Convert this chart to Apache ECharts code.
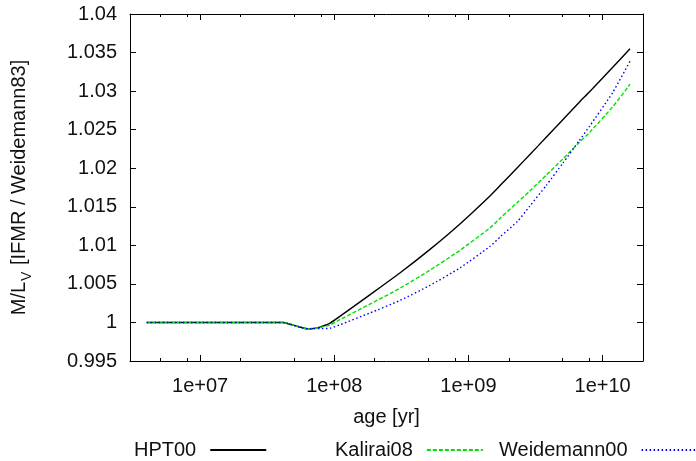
<!DOCTYPE html>
<html><head><meta charset="utf-8">
<script src="https://cdn.jsdelivr.net/npm/echarts@6/dist/echarts.min.js"></script>
<style>html,body{margin:0;padding:0;background:#fff}#c{width:696px;height:461px}</style>
</head><body><div id="c"></div>
<script>
// age [yr]
const ages = [4.0e6, 1e7, 2e7, 3e7, 4.15e7, 5e7, 6.3e7, 7e7, 7.8e7, 9.3e7, 1.1e8, 1.84e8, 3.08e8, 5.14e8, 8.6e8, 1.44e9, 1.75e9, 2.33e9, 2.85e9, 3.8e9, 5.05e9, 6.7e9, 8e9, 1.19e10, 1.6e10];
const hpt00 =       [1.0, 1.0, 1.0, 1.0, 1.0, 0.99962, 0.99918, 0.99922, 0.99940, 0.99992, 1.00078, 1.00358, 1.00641, 1.00944, 1.01274, 1.01637, 1.01788, 1.02012, 1.02172, 1.02401, 1.02629, 1.02856, 1.02991, 1.03309, 1.03550];
const kalirai08 =   [1.0, 1.0, 1.0, 1.0, 1.0, 0.99962, 0.99918, 0.99922, 0.99935, 0.99968, 1.00035, 1.00237, 1.00443, 1.00676, 1.00933, 1.01224, 1.01364, 1.01561, 1.01701, 1.01911, 1.02119, 1.02335, 1.02465, 1.02797, 1.03089];
const weidemann00 = [1.0, 1.0, 1.0, 1.0, 1.0, 0.99962, 0.99918, 0.99920, 0.99920, 0.99925, 0.99970, 1.00122, 1.00285, 1.00479, 1.00705, 1.00984, 1.01120, 1.01315, 1.01504, 1.01777, 1.02065, 1.02358, 1.02545, 1.02983, 1.03389];
const seriesNames = ['HPT00', 'Kalirai08', 'Weidemann00'];
const majorTicks = [1e7, 1e8, 1e9, 1e10];
const minorTicks = [5e6, 8e6, 2e7, 5e7, 8e7, 2e8, 5e8, 8e8, 2e9, 5e9, 8e9];

const FONT = "'Liberation Sans', Arial, sans-serif";
const FS = 20;
const TXT = '#111';
const xMin = 3e6, xMax = 2e10;

function zip(ys) { return ages.map((a, i) => [a, ys[i]]); }
function xFmt(v) { const e = Math.round(Math.log10(v)); return '1e+' + (e < 10 ? '0' + e : e); }

const baseX = {
  type: 'log', logBase: 10, min: xMin, max: xMax,
  splitLine: { show: false }, axisLabel: { show: false }, axisLine: { show: false }
};

const chart = echarts.init(document.getElementById('c'), null, { renderer: 'canvas' });
chart.setOption({
  animation: false,
  backgroundColor: '#fff',
  textStyle: { fontFamily: FONT },
  grid: { left: 130, right: 53, top: 14, bottom: 100, containLabel: false },
  xAxis: [
    Object.assign({}, baseX, {
      position: 'bottom',
      name: 'age [yr]', nameLocation: 'middle', nameGap: 46,
      nameTextStyle: { fontFamily: FONT, fontSize: FS, color: TXT },
      axisLine: { show: true, onZero: false, lineStyle: { color: '#000', width: 1 } },
      axisTick: { show: true, inside: true, length: 6, customValues: majorTicks, lineStyle: { color: '#000' } },
      axisLabel: { show: true, margin: 15, fontFamily: FONT, fontSize: FS, color: TXT, customValues: majorTicks, formatter: xFmt }
    }),
    Object.assign({}, baseX, {
      position: 'bottom',
      axisTick: { show: true, inside: true, length: 3, customValues: minorTicks, lineStyle: { color: '#000' } }
    }),
    Object.assign({}, baseX, {
      position: 'top',
      axisLine: { show: true, onZero: false, lineStyle: { color: '#000', width: 1 } },
      axisTick: { show: true, inside: true, length: 6, customValues: majorTicks, lineStyle: { color: '#000' } }
    }),
    Object.assign({}, baseX, {
      position: 'top',
      axisTick: { show: true, inside: true, length: 3, customValues: minorTicks, lineStyle: { color: '#000' } }
    })
  ],
  yAxis: [
    {
      type: 'value', min: 0.995, max: 1.04, interval: 0.005, position: 'left',
      name: '{a|M/L}{s|V}{a| [IFMR / Weidemann83]}', nameLocation: 'middle', nameGap: 101, nameRotate: 90,
      nameTextStyle: { fontFamily: FONT, fontSize: FS, color: TXT,
        rich: { a: { fontFamily: FONT, fontSize: FS, color: TXT, verticalAlign: 'bottom', lineHeight: 24 },
                s: { fontFamily: FONT, fontSize: 14, color: TXT, verticalAlign: 'bottom', lineHeight: 24, padding: [0, 1, -5, 1] } } },
      splitLine: { show: false },
      axisLine: { show: true, onZero: false, lineStyle: { color: '#000', width: 1 } },
      axisTick: { show: true, inside: true, length: 6, lineStyle: { color: '#000' } },
      axisLabel: { margin: 13, fontFamily: FONT, fontSize: FS, color: TXT,
        formatter: v => String(parseFloat(v.toFixed(3))) }
    },
    {
      type: 'value', min: 0.995, max: 1.04, interval: 0.005, position: 'right',
      splitLine: { show: false },
      axisLine: { show: true, onZero: false, lineStyle: { color: '#000', width: 1 } },
      axisTick: { show: true, inside: true, length: 6, lineStyle: { color: '#000' } },
      axisLabel: { show: false }
    }
  ],
  legend: [0, 1, 2].map((k, i) => ({
    data: [seriesNames[k]],
    left: [134, 335, 499][i], top: 440,
    orient: 'horizontal', align: 'right', padding: 0,
    itemWidth: 56, itemHeight: 14,
    selectedMode: false,
    itemStyle: { opacity: 0 },
    textStyle: { fontFamily: FONT, fontSize: FS, color: TXT, padding: [0, 9, 0, 0] }
  })),
  series: [
    { name: seriesNames[0], type: 'line', data: zip(hpt00), showSymbol: false, symbol: 'none', smooth: 0.2,
      color: '#000', lineStyle: { color: '#000', width: 1.4, type: 'solid' } },
    { name: seriesNames[1], type: 'line', data: zip(kalirai08), showSymbol: false, symbol: 'none', smooth: 0.2,
      color: '#00e000', lineStyle: { color: '#00e000', width: 1.4, type: [4, 2] } },
    { name: seriesNames[2], type: 'line', data: zip(weidemann00), showSymbol: false, symbol: 'none', smooth: 0.2,
      color: '#0000ff', lineStyle: { color: '#0000ff', width: 1.4, type: [1.5, 2.5] } }
  ]
});
</script>
</body></html>
